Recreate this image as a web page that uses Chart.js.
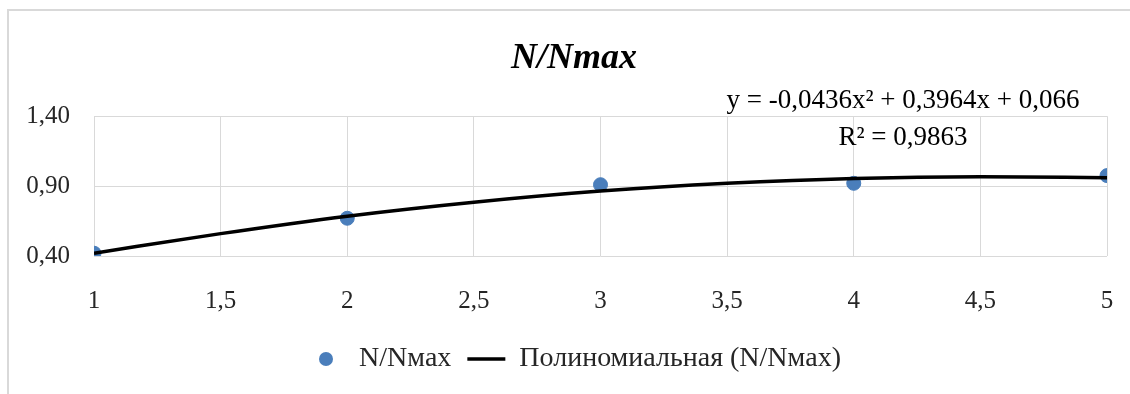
<!DOCTYPE html>
<html>
<head>
<meta charset="utf-8">
<script src="https://cdn.jsdelivr.net/npm/chart.js@4.4.1/dist/chart.umd.min.js"></script>
<style>
html, body { margin: 0; padding: 0; background: #fff; overflow: hidden; }
#page { position: absolute; left: 0; top: 0; width: 1130px; height: 394px; overflow: hidden; }
#frame { position: absolute; left: 7px; top: 9px; width: 2000px; height: 1000px; border-left: 2px solid #d9d9d9; border-top: 2px solid #d9d9d9; }
#wrap { position: absolute; left: 0; top: 0; width: 1130px; height: 394px; }
</style>
</head>
<body>
<div id="page">
<div id="frame"></div>
<div id="wrap"><canvas id="mycanvas"></canvas></div>
</div>
<script>
// measured points
var xValues = [1, 2, 3, 4, 5];
var ratio = [0.42, 0.67, 0.91, 0.92, 0.975];

// polynomial trendline
var trendX = [1, 1.5, 2, 2.5, 3, 3.5, 4, 4.5, 5];
var trendY = [0.42, 0.56, 0.685, 0.785, 0.865, 0.92, 0.955, 0.967, 0.96];

var titleText = 'N/Nmax';
var seriesName = 'N/Nмax';
var trendName = 'Полиномиальная (N/Nмax)';
var equationText = 'y = -0,0436x² + 0,3964x + 0,066';
var r2Text = 'R² = 0,9863';

var FONT = "'Liberation Serif', 'Times New Roman', serif";
Chart.defaults.font.family = FONT;

var points = [];
for (var i in xValues) {
	points.push({x: xValues[i], y: ratio[i]});
}
var trend = [];
for (var j in trendX) {
	trend.push({x: trendX[j], y: trendY[j]});
}

// little blue dot for the legend
var dot = document.createElement('canvas');
dot.width = 16; dot.height = 16;
var dctx = dot.getContext('2d');
dctx.fillStyle = '#4a7ebb';
dctx.beginPath();
dctx.arc(8, 8, 7, 0, Math.PI * 2);
dctx.fill();

var equationLabel = {
	id: 'equationLabel',
	afterDraw: function(chart) {
		var ctx = chart.ctx;
		var area = chart.chartArea;
		ctx.save();
		ctx.font = '27px ' + FONT;
		ctx.fillStyle = '#000';
		ctx.textAlign = 'center';
		ctx.textBaseline = 'alphabetic';
		ctx.fillText(equationText, 903, area.top - 8);
		ctx.fillText(r2Text, 903, area.top + 29);
		ctx.restore();
	}
};

var ctx = document.getElementById('mycanvas');

var chart = new Chart(ctx, {
	data: {
		datasets: [
			{
				type: 'scatter',
				label: seriesName,
				data: points,
				backgroundColor: '#4a7ebb',
				borderColor: '#4a7ebb',
				pointRadius: 7,
				order: 2
			},
			{
				type: 'line',
				label: trendName,
				data: trend,
				borderColor: '#000',
				backgroundColor: '#000',
				borderWidth: 3.5,
				pointRadius: 0,
				pointStyle: 'line',
				cubicInterpolationMode: 'monotone',
				fill: false,
				order: 1
			}
		]
	},
	options: {
		responsive: true,
		maintainAspectRatio: false,
		animation: false,
		layout: { padding: { left: 18, right: 0, top: 0, bottom: 11 } },
		scales: {
			x: {
				type: 'linear',
				min: 1,
				max: 5,
				border: { display: false },
				grid: { color: '#d9d9d9', drawTicks: false },
				ticks: {
					stepSize: 0.5,
					padding: 30,
					color: '#262626',
					font: { size: 25 },
					callback: function(v) { return String(v).replace('.', ','); }
				},
				afterFit: function(scale) {
					scale.height = 73;
					scale.paddingRight = 23;
					scale.paddingLeft = 10;
				}
			},
			y: {
				min: 0.4,
				max: 1.4,
				border: { display: false },
				grid: { color: '#d9d9d9', drawTicks: false },
				ticks: {
					stepSize: 0.5,
					padding: 24,
					color: '#262626',
					font: { size: 25 },
					callback: function(v) { return v.toFixed(2).replace('.', ','); }
				},
				afterFit: function(scale) { scale.width = 76; }
			}
		},
		plugins: {
			title: {
				display: true,
				text: titleText,
				color: '#000',
				font: { size: 36, weight: 'bold', style: 'italic' },
				padding: { top: 37, bottom: 36 }
			},
			legend: {
				position: 'bottom',
				labels: {
					color: '#262626',
					font: { size: 28 },
					usePointStyle: true,
					pointStyleWidth: 38,
					padding: 16,
					sort: function(a, b) { return a.datasetIndex - b.datasetIndex; },
					generateLabels: function(chart) {
						var items = Chart.defaults.plugins.legend.labels.generateLabels(chart);
						items.forEach(function(it) {
							if (it.datasetIndex === 0) {
								it.pointStyle = dot;
							} else {
								it.pointStyle = 'line';
								it.lineWidth = 3.5;
								it.strokeStyle = '#000';
							}
						});
						return items;
					}
				}
			},
			tooltip: { enabled: false }
		}
	},
	plugins: [equationLabel]
});
</script>
</body>
</html>
